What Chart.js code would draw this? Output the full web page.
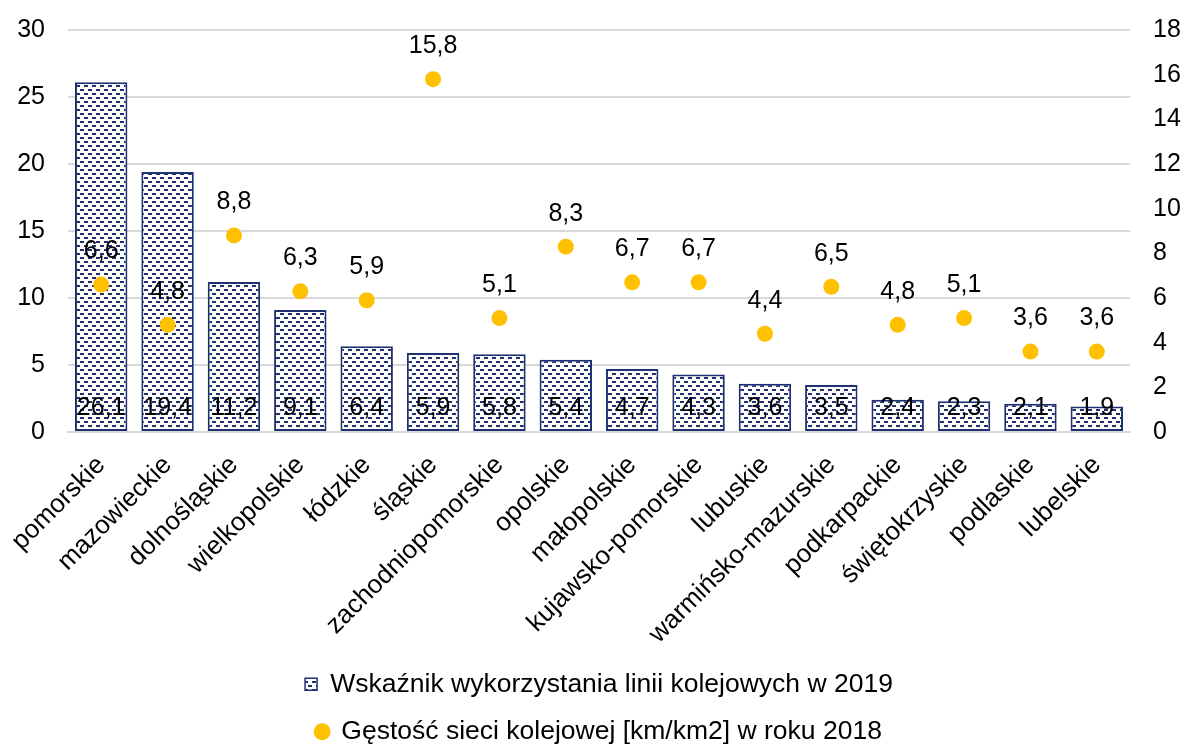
<!DOCTYPE html>
<html lang="pl">
<head>
<meta charset="utf-8">
<script src="https://cdn.jsdelivr.net/npm/chart.js@4/dist/chart.umd.min.js"></script>
<style>
  html, body { margin: 0; padding: 0; background: #fff; }
  #chart { display: block; }
</style>
</head>
<body>
<canvas id="chart" width="1185" height="744"></canvas>
<script>
// Voivodeships, sorted by the usage index
const regions = [
  'pomorskie', 'mazowieckie', 'dolnośląskie', 'wielkopolskie', 'łódzkie',
  'śląskie', 'zachodniopomorskie', 'opolskie', 'małopolskie', 'kujawsko-pomorskie',
  'lubuskie', 'warmińsko-mazurskie', 'podkarpackie', 'świętokrzyskie', 'podlaskie', 'lubelskie'
];

// Rail line usage index, 2019 (left axis)
const usageIndex = [26.1, 19.4, 11.2, 9.1, 6.4, 5.9, 5.8, 5.4, 4.7, 4.3, 3.6, 3.5, 2.4, 2.3, 2.1, 1.9];

// Rail network density [km/km2], 2018 (right axis)
const networkDensity = [6.6, 4.8, 8.8, 6.3, 5.9, 15.8, 5.1, 8.3, 6.7, 6.7, 4.4, 6.5, 4.8, 5.1, 3.6, 3.6];

const usageLabel = 'Wskaźnik wykorzystania linii kolejowych w 2019';
const densityLabel = 'Gęstość sieci kolejowej [km/km2] w roku 2018';

const navy = '#1F3070';
const gold = '#FFC000';
const fontFamily = '"Liberation Sans", Arial, sans-serif';
const fontSize = 25;

// Small tile of staggered dashes used as the bar fill
function makeDashPattern() {
  const tile = document.createElement('canvas');
  tile.width = 8;
  tile.height = 8;
  const t = tile.getContext('2d');
  t.fillStyle = '#fff';
  t.fillRect(0, 0, 8, 8);
  t.fillStyle = navy;
  t.fillRect(0, 1, 4, 2);
  t.fillRect(4, 5, 4, 2);
  return t.createPattern(tile, 'repeat');
}
const dashFill = makeDashPattern();

// Numbers with a decimal comma
const fmt = (v) => v.toFixed(1).replace('.', ',');

// Value labels: inside the bottom of each bar, above each dot
const valueLabels = {
  id: 'valueLabels',
  afterDatasetsDraw(chart) {
    const ctx = chart.ctx;
    const bottom = chart.scales.y.bottom;
    ctx.save();
    ctx.font = fontSize + 'px ' + fontFamily;
    ctx.fillStyle = '#000';
    ctx.textAlign = 'center';
    ctx.textBaseline = 'middle';
    chart.data.datasets.forEach((ds, i) => {
      const meta = chart.getDatasetMeta(i);
      meta.data.forEach((el, j) => {
        const text = fmt(ds.data[j]);
        if (ds.type === 'bar') {
          ctx.fillText(text, el.x, bottom - 24);
        } else {
          ctx.fillText(text, el.x, el.y - 33);
        }
      });
    });
    ctx.restore();
  }
};

Chart.defaults.font.family = fontFamily;
Chart.defaults.font.size = fontSize;
Chart.defaults.color = '#000';

// fixed axis width and top inset for both value axes
const fixAxis = (scale) => {
  scale.width = 51;
  scale.paddingTop = 30;
};

new Chart(document.getElementById('chart'), {
  data: {
    labels: regions,
    datasets: [
      {
        type: 'bar',
        label: usageLabel,
        data: usageIndex,
        yAxisID: 'y',
        backgroundColor: dashFill,
        borderColor: navy,
        borderWidth: 2,
        borderSkipped: false,
        barPercentage: 0.79,
        categoryPercentage: 1,
        order: 2
      },
      {
        type: 'line',
        label: densityLabel,
        data: networkDensity,
        yAxisID: 'y1',
        showLine: false,
        pointRadius: 8,
        pointHoverRadius: 8,
        pointBackgroundColor: gold,
        pointBorderColor: gold,
        pointBorderWidth: 0,
        backgroundColor: gold,
        borderColor: gold,
        order: 1
      }
    ]
  },
  options: {
    responsive: false,
    animation: false,
    layout: { padding: { left: 17, right: 4, top: 0, bottom: -11 } },
    plugins: {
      tooltip: { enabled: false },
      legend: {
        position: 'bottom',
        fullSize: false, // narrower box makes the two entries stack
        labels: {
          usePointStyle: true,
          boxWidth: 12,
          boxHeight: 12,
          padding: 21,
          font: { size: 26.5 },
          sort: (a, b) => a.datasetIndex - b.datasetIndex,
          generateLabels(chart) {
            const items = Chart.defaults.plugins.legend.labels.generateLabels(chart);
            items.forEach((it) => {
              if (it.datasetIndex === 0) {
                it.pointStyle = 'rect';
                it.fillStyle = dashFill;
                it.strokeStyle = navy;
                it.lineWidth = 1.5;
              } else {
                it.pointStyle = 'circle';
                it.fillStyle = gold;
                it.strokeStyle = gold;
                it.lineWidth = 0;
              }
            });
            return items;
          }
        }
      }
    },
    scales: {
      x: {
        grid: { display: false, drawTicks: false },
        border: { color: '#d9d9d9', width: 2 },
        ticks: { minRotation: 45, maxRotation: 45, padding: 18, font: { size: 26 } },
        // rotated names may run past the plot edge; height is fixed for the legend below
        afterFit(scale) {
          scale.paddingLeft = 0;
          scale.paddingRight = 0;
          scale.height = 218;
        }
      },
      y: {
        position: 'left',
        min: 0,
        max: 30,
        ticks: { stepSize: 5, padding: 23, font: { size: fontSize } },
        grid: { color: '#d9d9d9', lineWidth: 2, drawTicks: false },
        border: { display: false },
        afterFit: fixAxis
      },
      y1: {
        position: 'right',
        min: 0,
        max: 18,
        ticks: { stepSize: 2, padding: 23, font: { size: fontSize } },
        grid: { display: false, drawTicks: false },
        border: { display: false },
        afterFit: fixAxis
      }
    }
  },
  plugins: [valueLabels]
});
</script>
</body>
</html>
